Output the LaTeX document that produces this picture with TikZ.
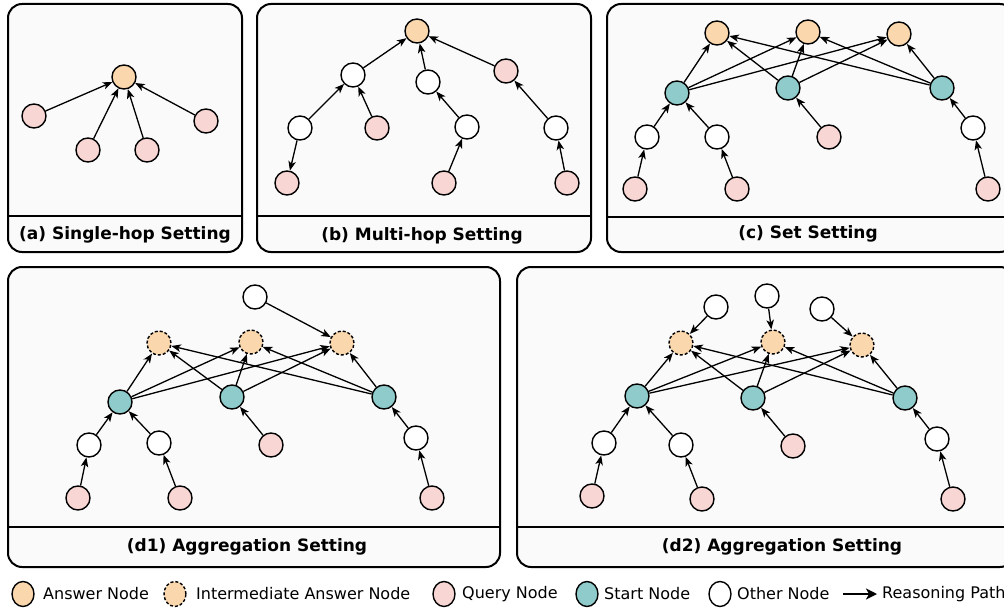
\documentclass[tikz,border=0pt]{standalone}
\usepackage{fontspec}
\setmainfont{DejaVu Sans}
\usetikzlibrary{arrows.meta,shapes.geometric}
\definecolor{ansfill}{HTML}{FAD7AC}
\definecolor{qfill}{HTML}{F8D6D4}
\definecolor{stfill}{HTML}{8ECBCA}
\definecolor{panelbg}{HTML}{FAFAFA}
\begin{document}
\begin{tikzpicture}[x=1pt,y=-1pt,
  nd/.style={circle,draw=black,line width=1.4pt,minimum size=24pt,inner sep=0pt},
  ans/.style={nd,fill=ansfill},
  mid/.style={nd,fill=ansfill,dash pattern=on 3pt off 2pt},
  qry/.style={nd,fill=qfill},
  st/.style={nd,fill=stfill},
  oth/.style={nd,fill=white},
  arr/.style={-{Stealth[length=9.5pt,width=7.5pt,inset=2.5pt]},line width=1.3pt},
  panel/.style={draw=black,line width=2pt,fill=panelbg,rounded corners=14pt},
  divider/.style={draw=black,line width=2pt},
  caption/.style={font=\fontsize{17}{20}\selectfont\bfseries},
  legtext/.style={font=\fontsize{16}{19}\selectfont,anchor=west,inner sep=0pt},
  legnode/.style={ellipse,minimum width=22pt,minimum height=25pt}
]
\useasboundingbox (0,0) rectangle (1004,610);
\clip (0,0) rectangle (1004,610);

% ---------- (a) single hop ----------
\draw[panel] (8,4) rectangle (242,252);
\draw[divider] (8,216) -- (242,216);
\node[caption] (capa) at (125,235) {(a) Single-hop Setting};
\node[ans] (a-ans) at (124,77) {};
\node[qry] (a-q1) at (34,116) {};
\node[qry] (a-q2) at (88,150) {};
\node[qry] (a-q3) at (147,150) {};
\node[qry] (a-q4) at (206,121) {};
\foreach \n in {a-q1,a-q2,a-q3,a-q4} \draw[arr] (\n) -- (a-ans);

% ---------- (b) multi hop ----------
\draw[panel] (257,4) rectangle (591,252);
\draw[divider] (257,216) -- (591,216);
\node[caption] (capb) at (422,236) {(b) Multi-hop Setting};
\node[ans] (b-ans) at (417,31) {};
\node[oth] (b-o1) at (353,75) {};
\node[oth] (b-o2) at (428,82) {};
\node[qry] (b-q1) at (506,71) {};
\node[oth] (b-o3) at (300,128) {};
\node[qry] (b-q2) at (377,128) {};
\node[oth] (b-o4) at (467,127) {};
\node[oth] (b-o5) at (556,128) {};
\node[qry] (b-q3) at (287,183) {};
\node[qry] (b-q4) at (444,183) {};
\node[qry] (b-q5) at (567,183) {};
\draw[arr] (b-o1) -- (b-ans);
\draw[arr] (b-o2) -- (b-ans);
\draw[arr] (b-q1) -- (b-ans);
\draw[arr] (b-o3) -- (b-o1);
\draw[arr] (b-q2) -- (b-o1);
\draw[arr] (b-o3) -- (b-q3);
\draw[arr] (b-o4) -- (b-o2);
\draw[arr] (b-q4) -- (b-o4);
\draw[arr] (b-o5) -- (b-q1);
\draw[arr] (b-q5) -- (b-o5);

% ---------- (c) set ----------
\draw[panel] (607,4) rectangle (1014,252);
\draw[divider] (607,217) -- (1014,217);
\node[caption] (capc) at (808,234) {(c) Set Setting};
\node[ans] (c-a1) at (717,33) {};
\node[ans] (c-a2) at (808,32) {};
\node[ans] (c-a3) at (899,34) {};
\node[st] (c-s1) at (677,93) {};
\node[st] (c-s2) at (788,88) {};
\node[st] (c-s3) at (942,88) {};
\node[oth] (c-o1) at (647,137) {};
\node[oth] (c-o2) at (717,137) {};
\node[qry] (c-q1) at (829,137) {};
\node[oth] (c-o3) at (973,128) {};
\node[qry] (c-q2) at (635,189) {};
\node[qry] (c-q3) at (737,189) {};
\node[qry] (c-q4) at (988,189) {};
\foreach \s in {c-s1,c-s2,c-s3}
  \foreach \a in {c-a1,c-a2,c-a3}
    \draw[arr] (\s) -- (\a);
\draw[arr] (c-o1) -- (c-s1);
\draw[arr] (c-o2) -- (c-s1);
\draw[arr] (c-q1) -- (c-s2);
\draw[arr] (c-o3) -- (c-s3);
\draw[arr] (c-q2) -- (c-o1);
\draw[arr] (c-q3) -- (c-o2);
\draw[arr] (c-q4) -- (c-o3);

% ---------- (d1) aggregation ----------
\draw[panel] (8,267) rectangle (500,567);
\draw[divider] (8,527) -- (500,527);
\node[caption] (capd1) at (247,547) {(d1) Aggregation Setting};
\node[oth] (d1-t) at (255,297) {};
\node[mid] (d1-a1) at (159,343) {};
\node[mid] (d1-a2) at (251,342) {};
\node[mid] (d1-a3) at (342,343) {};
\node[st] (d1-s1) at (120,402) {};
\node[st] (d1-s2) at (232,397) {};
\node[st] (d1-s3) at (384,397) {};
\node[oth] (d1-o1) at (89,445) {};
\node[oth] (d1-o2) at (159,443) {};
\node[qry] (d1-q1) at (271,445) {};
\node[oth] (d1-o3) at (416,438) {};
\node[qry] (d1-q2) at (78,498) {};
\node[qry] (d1-q3) at (180,498) {};
\node[qry] (d1-q4) at (432,498) {};
\foreach \s in {d1-s1,d1-s2,d1-s3}
  \foreach \a in {d1-a1,d1-a2,d1-a3}
    \draw[arr] (\s) -- (\a);
\draw[arr] (d1-t) -- (d1-a3);
\draw[arr] (d1-o1) -- (d1-s1);
\draw[arr] (d1-o2) -- (d1-s1);
\draw[arr] (d1-q1) -- (d1-s2);
\draw[arr] (d1-o3) -- (d1-s3);
\draw[arr] (d1-q2) -- (d1-o1);
\draw[arr] (d1-q3) -- (d1-o2);
\draw[arr] (d1-q4) -- (d1-o3);

% ---------- (d2) aggregation ----------
\draw[panel] (517,267) rectangle (1014,567);
\draw[divider] (517,527) -- (1014,527);
\node[caption] (capd2) at (782,547) {(d2) Aggregation Setting};
\node[oth] (d2-t1) at (716,307) {};
\node[oth] (d2-t2) at (767,296) {};
\node[oth] (d2-t3) at (822,309) {};
\node[mid] (d2-a1) at (681,343) {};
\node[mid] (d2-a2) at (773,342) {};
\node[mid] (d2-a3) at (862,345) {};
\node[st] (d2-s1) at (637,396) {};
\node[st] (d2-s2) at (753,398) {};
\node[st] (d2-s3) at (905,398) {};
\node[oth] (d2-o1) at (604,443) {};
\node[oth] (d2-o2) at (681,445) {};
\node[qry] (d2-q1) at (793,446) {};
\node[oth] (d2-o3) at (937,439) {};
\node[qry] (d2-q2) at (592,496) {};
\node[qry] (d2-q3) at (702,499) {};
\node[qry] (d2-q4) at (953,499) {};
\foreach \s in {d2-s1,d2-s2,d2-s3}
  \foreach \a in {d2-a1,d2-a2,d2-a3}
    \draw[arr] (\s) -- (\a);
\draw[arr] (d2-t1) -- (d2-a1);
\draw[arr] (d2-t2) -- (d2-a2);
\draw[arr] (d2-t3) -- (d2-a3);
\draw[arr] (d2-o1) -- (d2-s1);
\draw[arr] (d2-o2) -- (d2-s1);
\draw[arr] (d2-q1) -- (d2-s2);
\draw[arr] (d2-o3) -- (d2-s3);
\draw[arr] (d2-q2) -- (d2-o1);
\draw[arr] (d2-q3) -- (d2-o2);
\draw[arr] (d2-q4) -- (d2-o3);

% ---------- legend ----------
\node[ans,legnode] (lg-ans) at (23,594) {};
\node[legtext] (lt-ans) at (43,594) {Answer Node};
\node[mid,legnode] (lg-mid) at (175,594) {};
\node[legtext] (lt-mid) at (196,594) {Intermediate Answer Node};
\node[qry,legnode] (lg-qry) at (444,594) {};
\node[legtext] (lt-qry) at (462,594) {Query Node};
\node[st,legnode] (lg-st) at (587,594) {};
\node[legtext] (lt-st) at (604,594) {Start Node};
\node[oth,legnode] (lg-oth) at (720,594) {};
\node[legtext] (lt-oth) at (737,594) {Other Node};
\coordinate (lg-from) at (843,594);
\coordinate (lg-to) at (877,594);
\draw[-{Stealth[length=11pt,width=11pt,inset=3pt]},line width=2.6pt] (lg-from) -- (lg-to);
\node[legtext] (lt-arr) at (882,594) {Reasoning Path};
\end{tikzpicture}
\end{document}
